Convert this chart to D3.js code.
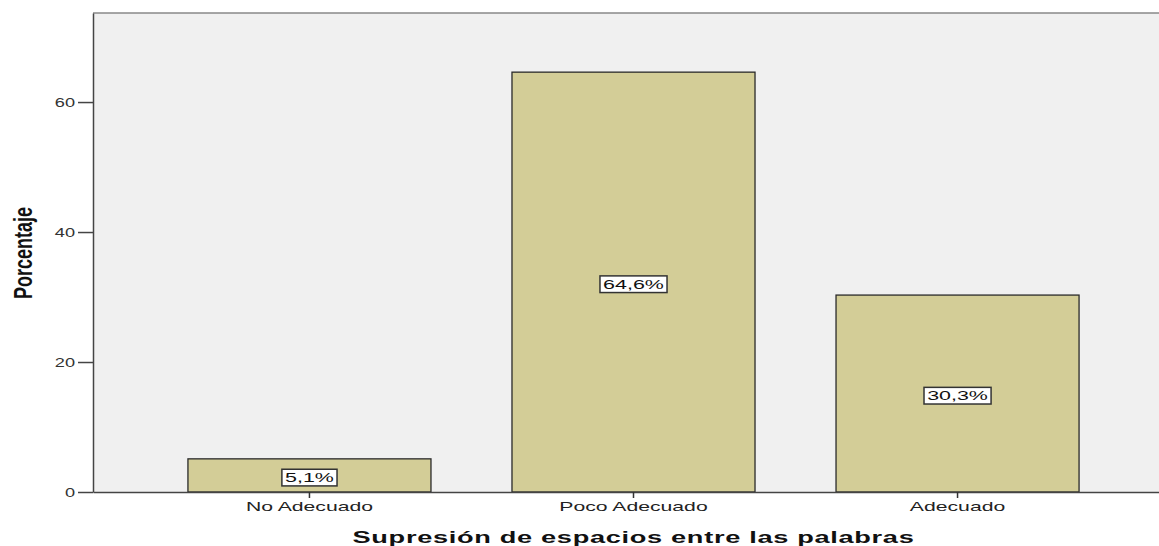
<!DOCTYPE html>
<html>
<head>
<meta charset="utf-8">
<script src="https://cdn.jsdelivr.net/npm/d3@7"></script>
<style>
  body { margin: 0; background: #fff; overflow: hidden; }
  svg { display: block; font-family: "Liberation Sans", Arial, sans-serif; }
</style>
</head>
<body>
<div id="chart"></div>
<script>
// values
var categories = ["No Adecuado", "Poco Adecuado", "Adecuado"];
var percents = [5.1, 64.6, 30.3];
var labels = ["5,1%", "64,6%", "30,3%"];
var yTicks = [0, 20, 40, 60];

(function() {
  var width = 1159, height = 546;
  var pl = 93, pt = 13, pb = 492, pr = 1174;

  var svg = d3.select("#chart").append("svg")
    .attr("width", width)
    .attr("height", height);

  var x = d3.scaleBand()
    .domain(categories)
    .range([pl, pr])
    .paddingInner(0.25)
    .paddingOuter(0.293);

  var y = d3.scaleLinear()
    .domain([0, 73.7])
    .range([pb, pt]);

  // widen a text horizontally around its own x (the reference text is stretched)
  function stretch(sel, k) {
    sel.each(function() {
      var tx = +d3.select(this).attr("x") || 0;
      d3.select(this).attr("transform",
        "translate(" + tx * (1 - k) + ",0) scale(" + k + ",1)");
    });
  }

  // plot background
  svg.append("rect")
    .attr("x", pl)
    .attr("y", pt)
    .attr("width", pr - pl)
    .attr("height", pb - pt)
    .attr("fill", "#f0f0f0");

  svg.append("line")
    .attr("x1", pl).attr("x2", width)
    .attr("y1", pt).attr("y2", pt)
    .attr("stroke", "#888").attr("stroke-width", 1.5);

  // bars
  svg.selectAll(".bar")
    .data(percents)
    .enter()
    .append("rect")
    .attr("class", "bar")
    .attr("x", function(d, i) { return x(categories[i]); })
    .attr("y", function(d) { return y(d); })
    .attr("width", x.bandwidth())
    .attr("height", function(d) { return pb - y(d); })
    .attr("fill", "#d3cd97")
    .attr("stroke", "#2a2a2a")
    .attr("stroke-width", 1.3);

  // value labels in boxes
  var KL = 1.65;
  var lab = svg.selectAll(".lab")
    .data(percents)
    .enter()
    .append("g")
    .attr("class", "lab")
    .attr("transform", function(d, i) {
      return "translate(" + (x(categories[i]) + x.bandwidth() / 2) + "," + ((y(d) + y(0)) / 2 + 2) + ")";
    });

  lab.append("text")
    .attr("text-anchor", "middle")
    .attr("dy", "0.35em")
    .attr("font-size", 13)
    .attr("fill", "#111")
    .text(function(d, i) { return labels[i]; })
    .call(stretch, KL)
    .each(function() {
      var b = this.getBBox();
      var w = b.width * KL;
      d3.select(this.parentNode).insert("rect", "text")
        .attr("x", -w / 2 - 3)
        .attr("y", b.y - 1)
        .attr("width", w + 6)
        .attr("height", b.height + 2)
        .attr("fill", "#fff")
        .attr("stroke", "#333")
        .attr("stroke-width", 1.5);
    });

  // axes
  var yAxis = svg.append("g")
    .attr("transform", "translate(" + pl + ",0)")
    .call(d3.axisLeft(y).tickValues(yTicks).tickSize(15).tickSizeOuter(0).tickPadding(3));
  yAxis.select(".domain").attr("stroke", "#444").attr("stroke-width", 1.5);
  yAxis.selectAll(".tick line").attr("stroke", "#444").attr("stroke-width", 1.5);
  yAxis.selectAll("text").attr("font-size", 13).attr("fill", "#333")
    .attr("font-family", "Liberation Sans, Arial, sans-serif")
    .call(stretch, 1.4);

  var xAxis = svg.append("g")
    .attr("transform", "translate(0," + pb + ")")
    .call(d3.axisBottom(x).tickSize(6).tickPadding(4).tickSizeOuter(0));
  xAxis.select(".domain").attr("stroke", "#444").attr("stroke-width", 1.5);
  xAxis.selectAll(".tick line").attr("stroke", "#333").attr("stroke-width", 1.5);
  xAxis.selectAll("text").attr("font-size", 13).attr("fill", "#222")
    .attr("font-family", "Liberation Sans, Arial, sans-serif")
    .call(stretch, 1.63);

  // axis titles
  svg.append("text")
    .attr("x", x(categories[1]) + x.bandwidth() / 2)
    .attr("y", 543)
    .attr("text-anchor", "middle")
    .attr("font-size", 16)
    .attr("font-weight", "bold")
    .attr("letter-spacing", 0.4)
    .attr("fill", "#111")
    .text("Supresión de espacios entre las palabras")
    .call(stretch, 1.7);

  svg.append("text")
    .attr("transform", "translate(32,253) scale(1.45,1) rotate(-90)")
    .attr("text-anchor", "middle")
    .attr("font-size", 18)
    .attr("font-weight", "bold")
    .attr("fill", "#111")
    .text("Porcentaje");
})();
</script>
</body>
</html>
